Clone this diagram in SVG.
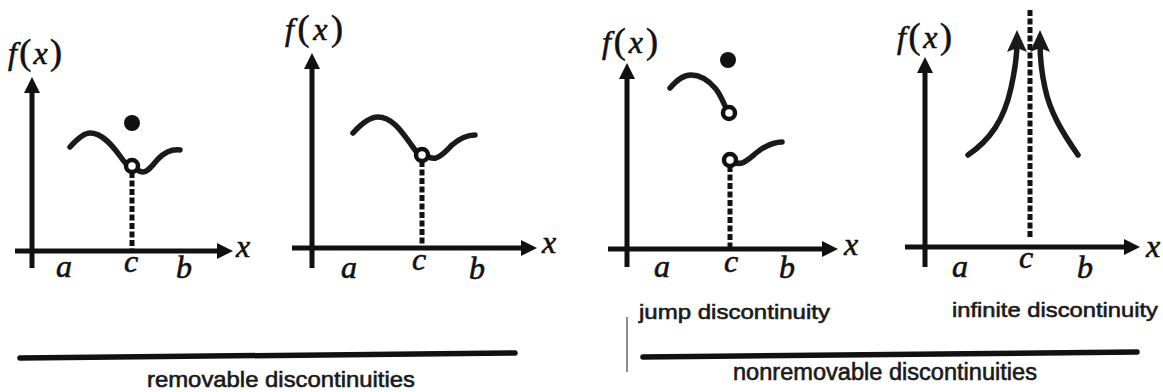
<svg xmlns="http://www.w3.org/2000/svg" width="1163" height="392" viewBox="0 0 1163 392">
<style>
.ax{stroke:#111;stroke-width:5;fill:none;marker-end:url(#ah)}
.cv{stroke:#1a1a1a;stroke-width:5.5;fill:none;stroke-linecap:round}
.dash{stroke:#111;stroke-width:5;stroke-dasharray:6 2.5;fill:none}
.open{fill:#fff;stroke:#111;stroke-width:4.5}
.dot{fill:#111}
.m{font-family:"Liberation Serif","Times New Roman",serif;font-style:italic;font-size:32px;fill:#111;stroke:#111;stroke-width:0.6}
.p{font-style:normal;font-size:36px}
.lbl{font-family:"Liberation Sans",Arial,sans-serif;fill:#1a1a1a;stroke:#1a1a1a;stroke-width:0.6}
.bar{stroke:#111;stroke-width:5.5;stroke-linecap:round}
</style>
<defs>
<marker id="ah" viewBox="0 0 16 16" refX="8" refY="8" markerWidth="16" markerHeight="16" markerUnits="userSpaceOnUse" orient="auto"><path d="M0,0 L16,8 L0,16 z" fill="#111"/></marker>
<marker id="ah2" viewBox="0 0 22 20" refX="10" refY="10" markerWidth="22" markerHeight="20" markerUnits="userSpaceOnUse" orient="auto"><path d="M0,0 L22,10 L0,20 L4,10 z" fill="#1a1a1a"/></marker>
</defs>

<g id="panel-removable-1">
<line class="ax" x1="32" y1="268" x2="32" y2="85"/>
<line class="ax" x1="15" y1="251" x2="225" y2="251"/>
<line class="dash" x1="132" y1="172" x2="132" y2="249"/>
<path class="cv" d="M70,147 C78,138 84,133 90,133 C102,133 112,145 120,156 C125,163 128,167 132,167 C137,170 140,172 143,172 C148,172 152,166 158,159 C165,152 172,149 180,150"/>
<circle class="open" cx="132" cy="166" r="6"/>
<circle class="dot" cx="132" cy="123" r="8"/>
<text class="m" x="8" y="64" textLength="54">f<tspan class="p">(</tspan>x<tspan class="p">)</tspan></text>
<text class="m" x="56" y="277">a</text>
<text class="m" x="124" y="272">c</text>
<text class="m" x="176" y="278">b</text>
<text class="m" x="236" y="257">x</text>
</g>

<g id="panel-removable-2">
<line class="ax" x1="312" y1="268" x2="312" y2="61"/>
<line class="ax" x1="292" y1="248" x2="529" y2="248"/>
<line class="dash" x1="422" y1="161" x2="422" y2="246"/>
<path class="cv" d="M353,133 C362,123 370,117 378,117 C392,117 402,132 410,143 C415,150 418,155 422,155 C427,157 431,159 436,158 C442,156 447,150 452,145 C459,139 466,135 475,135"/>
<circle class="open" cx="422" cy="155" r="6"/>
<text class="m" x="285" y="40" textLength="58">f<tspan class="p">(</tspan>x<tspan class="p">)</tspan></text>
<text class="m" x="341" y="278">a</text>
<text class="m" x="412" y="270">c</text>
<text class="m" x="469" y="279">b</text>
<text class="m" x="542" y="253">x</text>
</g>

<g id="panel-jump">
<line class="ax" x1="627" y1="267" x2="627" y2="71"/>
<line class="ax" x1="608" y1="249" x2="830" y2="249"/>
<line class="dash" x1="730" y1="166" x2="730" y2="247"/>
<path class="cv" d="M670,88 C677,80 683,75 691,75 C700,75 708,80 715,88 C722,96 724,106 729,113"/>
<path class="cv" d="M730,160 C734,163 738,164 742,163 C748,161 755,153 763,148 C770,144 776,142 782,142"/>
<circle class="open" cx="729" cy="113" r="6"/>
<circle class="open" cx="730" cy="160" r="6"/>
<circle class="dot" cx="728" cy="60" r="8"/>
<text class="m" x="602" y="53" textLength="56">f<tspan class="p">(</tspan>x<tspan class="p">)</tspan></text>
<text class="m" x="654" y="277">a</text>
<text class="m" x="724" y="272">c</text>
<text class="m" x="779" y="278">b</text>
<text class="m" x="844" y="255">x</text>
</g>

<g id="panel-infinite">
<line class="ax" x1="925" y1="267" x2="925" y2="65"/>
<line class="ax" x1="905" y1="247" x2="1132" y2="247"/>
<line class="dash" x1="1030" y1="10" x2="1030" y2="238"/>
<path class="cv" d="M968,155 C990,140 1004,120 1011,88 C1015,70 1017,55 1017,42" style="marker-end:url(#ah2)"/>
<path class="cv" d="M1078,155 C1062,132 1050,112 1045,88 C1041,70 1040,55 1040,42" style="marker-end:url(#ah2)"/>
<text class="m" x="897" y="48" textLength="55">f<tspan class="p">(</tspan>x<tspan class="p">)</tspan></text>
<text class="m" x="952" y="277">a</text>
<text class="m" x="1019" y="268">c</text>
<text class="m" x="1077" y="278">b</text>
<text class="m" x="1146" y="257">x</text>
</g>

<g id="caption-removable">
<line class="bar" x1="20" y1="358" x2="515" y2="353"/>
<text class="lbl" x="147" y="387" font-size="22" textLength="268" lengthAdjust="spacingAndGlyphs">removable discontinuities</text>
</g>

<g id="caption-nonremovable">
<line x1="627" y1="317" x2="627" y2="372" stroke="#666" stroke-width="1.5"/>
<text class="lbl" x="639" y="319" font-size="21" textLength="191" lengthAdjust="spacingAndGlyphs">jump discontinuity</text>
<text class="lbl" x="952" y="317" font-size="21" textLength="206" lengthAdjust="spacingAndGlyphs">infinite discontinuity</text>
<line class="bar" x1="643" y1="357" x2="1137" y2="352"/>
<text class="lbl" x="733" y="380" font-size="23" textLength="304" lengthAdjust="spacingAndGlyphs">nonremovable discontinuities</text>
</g>
</svg>
